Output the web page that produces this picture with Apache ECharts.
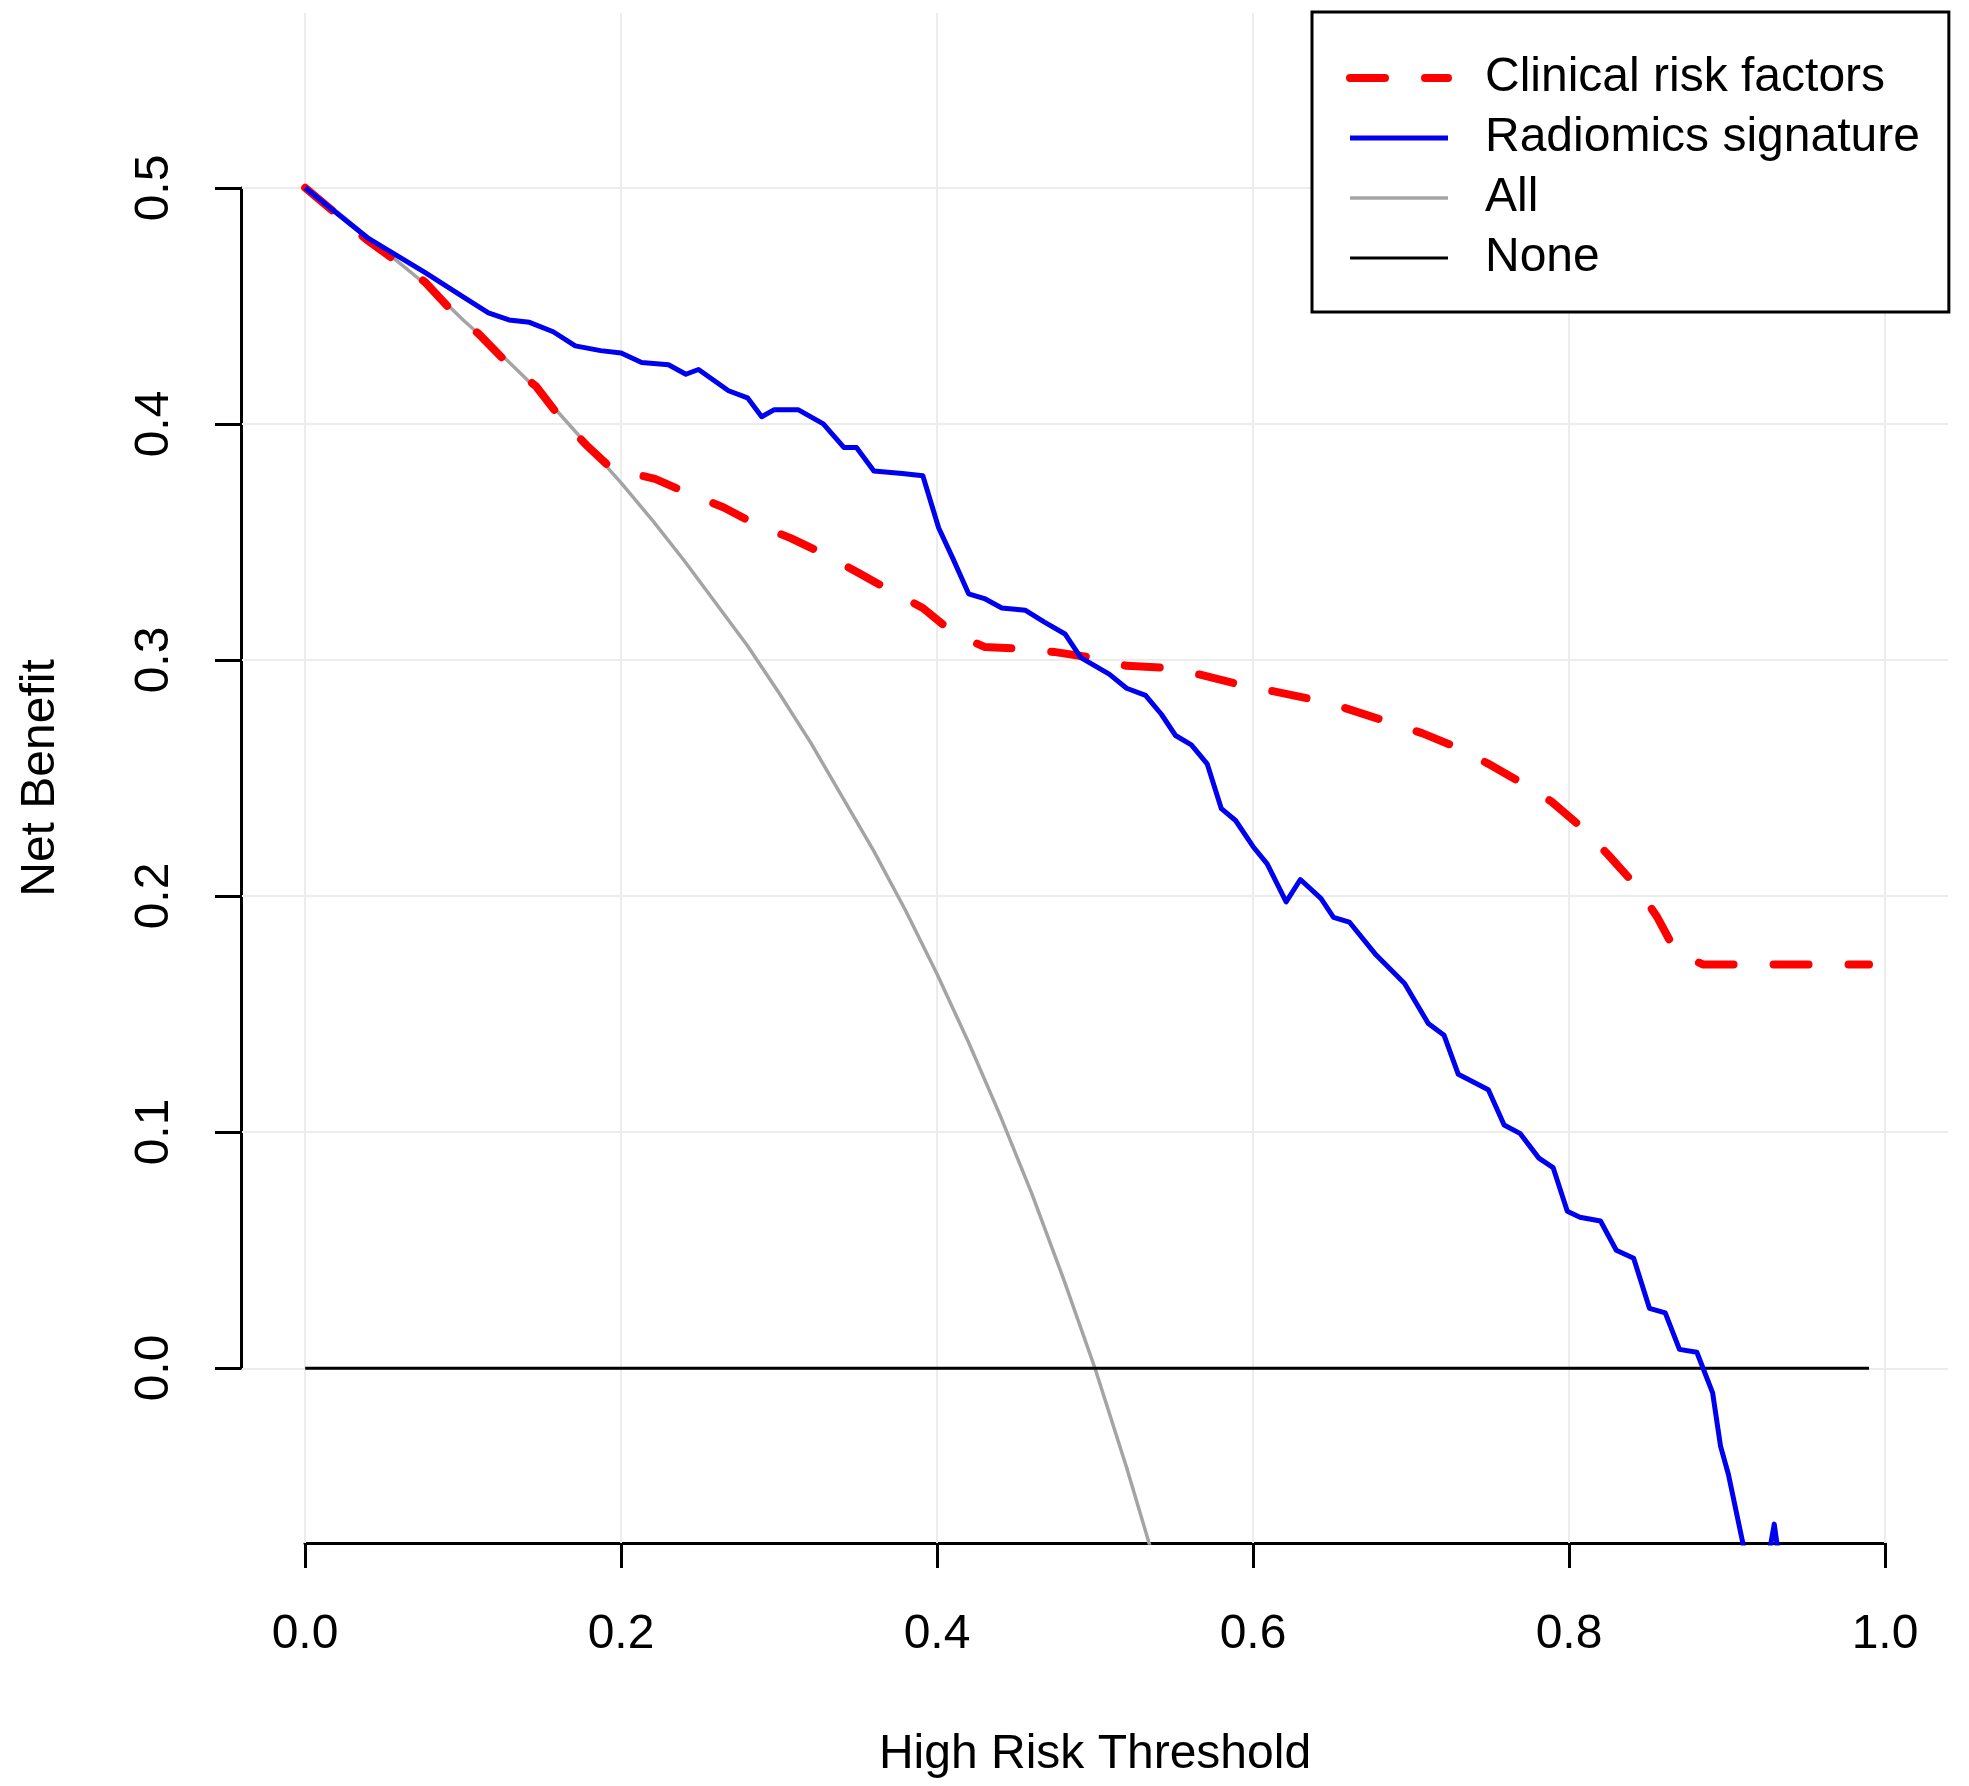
<!DOCTYPE html>
<html>
<head>
	<meta charset="UTF-8">
	<title>Decision curve</title>
	<script src="https://cdn.jsdelivr.net/npm/echarts@6.0.0/dist/echarts.min.js"></script>
	<style>
		html, body { margin: 0; padding: 0; background: #fff; }
		#dca { width: 1969px; height: 1786px; }
	</style>
</head>
<body>
<div id="dca"></div>
<script type="text/javascript">
	// tick labels
	var xTicks = [0, 0.2, 0.4, 0.6, 0.8, 1.0];
	var yTicks = [0, 0.1, 0.2, 0.3, 0.4, 0.5];

	// Clinical risk factors (red dashed)
	var clinicalX = [0, 0.039, 0.076, 0.094, 0.11, 0.129, 0.146, 0.161, 0.178, 0.194, 0.2215, 0.242, 0.265, 0.284, 0.307, 0.328, 0.351, 0.3715, 0.391, 0.41, 0.43, 0.452, 0.474, 0.498, 0.52, 0.543, 0.565, 0.589, 0.6125, 0.636, 0.658, 0.683, 0.707, 0.729, 0.749, 0.77, 0.789, 0.81, 0.825, 0.843, 0.856, 0.868, 0.885, 0.99];
	var clinicalY = [0.5, 0.478, 0.46, 0.447, 0.438, 0.425, 0.416, 0.403, 0.391, 0.381, 0.3767, 0.3707, 0.3646, 0.3578, 0.3517, 0.345, 0.3366, 0.329, 0.322, 0.3116, 0.3055, 0.3048, 0.3034, 0.301, 0.2975, 0.2967, 0.294, 0.29, 0.2868, 0.2835, 0.2797, 0.2743, 0.269, 0.263, 0.256, 0.248, 0.24, 0.228, 0.2174, 0.204, 0.191, 0.176, 0.171, 0.171];

	// Radiomics signature (blue)
	var radiomicsX = [0, 0.039, 0.076, 0.097, 0.116, 0.129, 0.142, 0.157, 0.171, 0.187, 0.2, 0.213, 0.23, 0.241, 0.249, 0.268, 0.28, 0.289, 0.297, 0.312, 0.328, 0.341, 0.349, 0.36, 0.378, 0.391, 0.401, 0.41, 0.42, 0.43, 0.441, 0.456, 0.468, 0.481, 0.491, 0.509, 0.52, 0.532, 0.542, 0.551, 0.561, 0.571, 0.58, 0.589, 0.6, 0.609, 0.621, 0.63, 0.643, 0.651, 0.661, 0.678, 0.696, 0.711, 0.721, 0.73, 0.749, 0.759, 0.769, 0.781, 0.79, 0.799, 0.807, 0.82, 0.83, 0.841, 0.851, 0.861, 0.87, 0.881, 0.891, 0.896, 0.901, 0.912, 0.925, 0.93, 0.935];
	var radiomicsY = [0.5, 0.479, 0.464, 0.455, 0.447, 0.444, 0.443, 0.439, 0.433, 0.431, 0.43, 0.426, 0.425, 0.421, 0.423, 0.414, 0.411, 0.403, 0.406, 0.406, 0.4, 0.39, 0.39, 0.38, 0.379, 0.378, 0.356, 0.343, 0.328, 0.326, 0.322, 0.321, 0.316, 0.311, 0.301, 0.294, 0.288, 0.285, 0.277, 0.268, 0.264, 0.256, 0.237, 0.232, 0.221, 0.2136, 0.1975, 0.207, 0.199, 0.191, 0.189, 0.175, 0.163, 0.146, 0.141, 0.1245, 0.118, 0.103, 0.0995, 0.089, 0.085, 0.0665, 0.064, 0.0624, 0.05, 0.0466, 0.0254, 0.0235, 0.008, 0.0068, -0.0104, -0.033, -0.045, -0.08, -0.085, -0.066, -0.09];

	// All (grey)
	var allX = [0, 0.02, 0.04, 0.06, 0.08, 0.10, 0.12, 0.14, 0.16, 0.18, 0.20, 0.22, 0.24, 0.26, 0.28, 0.30, 0.32, 0.34, 0.36, 0.38, 0.40, 0.42, 0.44, 0.46, 0.48, 0.50, 0.52, 0.54];
	var allY = [0.5, 0.49, 0.479, 0.468, 0.457, 0.444, 0.432, 0.419, 0.405, 0.39, 0.375, 0.359, 0.342, 0.324, 0.306, 0.286, 0.265, 0.242, 0.219, 0.194, 0.167, 0.138, 0.107, 0.074, 0.038, 0, -0.042, -0.087];

	// None (black)
	var noneX = [0, 0.99];
	var noneY = [0, 0];

	function pairs(xs, ys) {
		var out = [];
		for (var i = 0; i < xs.length; i++) {
			out.push([xs[i], ys[i]]);
		}
		return out;
	}

	// 网格线
	var gridLines = [];
	for (var i = 0; i < xTicks.length; i++) { gridLines.push({xAxis: xTicks[i]}); }
	for (var j = 0; j < yTicks.length; j++) { gridLines.push({yAxis: yTicks[j]}); }

	var font = 'Liberation Sans, Arial, sans-serif';
	var chart = echarts.init(document.getElementById('dca'));

	var option = {
		animation: false,
		backgroundColor: '#fff',
		textStyle: {fontFamily: font},
		grid: [
			// plot region
			{left: 242, right: 21, top: 13, bottom: 243},
			// axis range 0..1 / 0..0.5
			{left: 305, right: 84, top: 188, bottom: 418}
		],
		xAxis: [
			{
				gridIndex: 0, type: 'value', min: -0.04, max: 1.04,
				axisLine: {show: false}, axisTick: {show: false},
				axisLabel: {show: false}, splitLine: {show: false}
			},
			{
				gridIndex: 1, type: 'value', min: 0, max: 1, interval: 0.2,
				position: 'bottom', offset: 175,
				axisLine: {show: true, onZero: false, lineStyle: {color: '#000', width: 3}},
				axisTick: {show: true, length: 25, lineStyle: {color: '#000', width: 3}},
				axisLabel: {
					fontSize: 48, color: '#000', fontFamily: font, margin: 68,
					formatter: function (v) { return v.toFixed(1); }
				},
				splitLine: {show: false},
				name: 'High Risk Threshold', nameLocation: 'middle', nameGap: 188,
				nameTextStyle: {fontSize: 48, color: '#000', fontFamily: font}
			}
		],
		yAxis: [
			{
				gridIndex: 0, type: 'value', min: -0.074, max: 0.574,
				axisLine: {show: false}, axisTick: {show: false},
				axisLabel: {show: false}, splitLine: {show: false}
			},
			{
				gridIndex: 1, type: 'value', min: 0, max: 0.5, interval: 0.1,
				position: 'left', offset: 64,
				axisLine: {show: true, onZero: false, lineStyle: {color: '#000', width: 3}},
				axisTick: {show: true, length: 26, lineStyle: {color: '#000', width: 3}},
				axisLabel: {
					fontSize: 48, color: '#000', fontFamily: font, margin: 62, rotate: 90,
					formatter: function (v) { return v.toFixed(1); }
				},
				splitLine: {show: false},
				name: 'Net Benefit', nameLocation: 'middle', nameGap: 176,
				nameTextStyle: {fontSize: 48, color: '#000', fontFamily: font}
			}
		],
		legend: {
			data: ['Clinical risk factors', 'Radiomics signature', 'All', 'None'],
			orient: 'vertical',
			left: 1312, top: 12,
			padding: [42, 29, 30, 34],
			itemWidth: 98, itemHeight: 14, itemGap: 12,
			borderColor: '#000', borderWidth: 3, borderRadius: 0,
			backgroundColor: '#fff',
			selectedMode: false,
			z: 50,
			lineStyle: {width: 'inherit'},
			itemStyle: {opacity: 0},
			textStyle: {fontSize: 48, color: '#000', fontFamily: font, lineHeight: 48, padding: [0, 0, 0, 32]}
		},
		series: [
			{
				name: 'gridref', type: 'line', xAxisIndex: 0, yAxisIndex: 0,
				data: [[0, 0]], symbol: 'none', lineStyle: {opacity: 0}, z: 1, silent: true,
				markLine: {
					silent: true, symbol: ['none', 'none'], label: {show: false}, z: 1,
					lineStyle: {type: 'solid', color: '#ececec', width: 2},
					data: gridLines
				}
			},
			{
				name: 'All', type: 'line', xAxisIndex: 0, yAxisIndex: 0,
				data: pairs(allX, allY), symbol: 'none', z: 2,
				lineStyle: {color: '#a4a4a4', width: 3.5}, itemStyle: {color: '#a4a4a4'}
			},
			{
				name: 'None', type: 'line', xAxisIndex: 0, yAxisIndex: 0,
				data: pairs(noneX, noneY), symbol: 'none', z: 3,
				lineStyle: {color: '#000', width: 3}, itemStyle: {color: '#000'}
			},
			{
				name: 'Clinical risk factors', type: 'line', xAxisIndex: 0, yAxisIndex: 0,
				data: pairs(clinicalX, clinicalY), symbol: 'none', z: 4,
				lineStyle: {color: '#ff0000', width: 8, type: [35, 40], cap: 'round', join: 'round'},
				itemStyle: {color: '#ff0000'}
			},
			{
				name: 'Radiomics signature', type: 'line', xAxisIndex: 0, yAxisIndex: 0,
				data: pairs(radiomicsX, radiomicsY), symbol: 'none', z: 5,
				lineStyle: {color: '#0000f0', width: 5, join: 'round'},
				itemStyle: {color: '#0000f0'}
			}
		]
	};

	chart.setOption(option);
</script>
</body>
</html>
